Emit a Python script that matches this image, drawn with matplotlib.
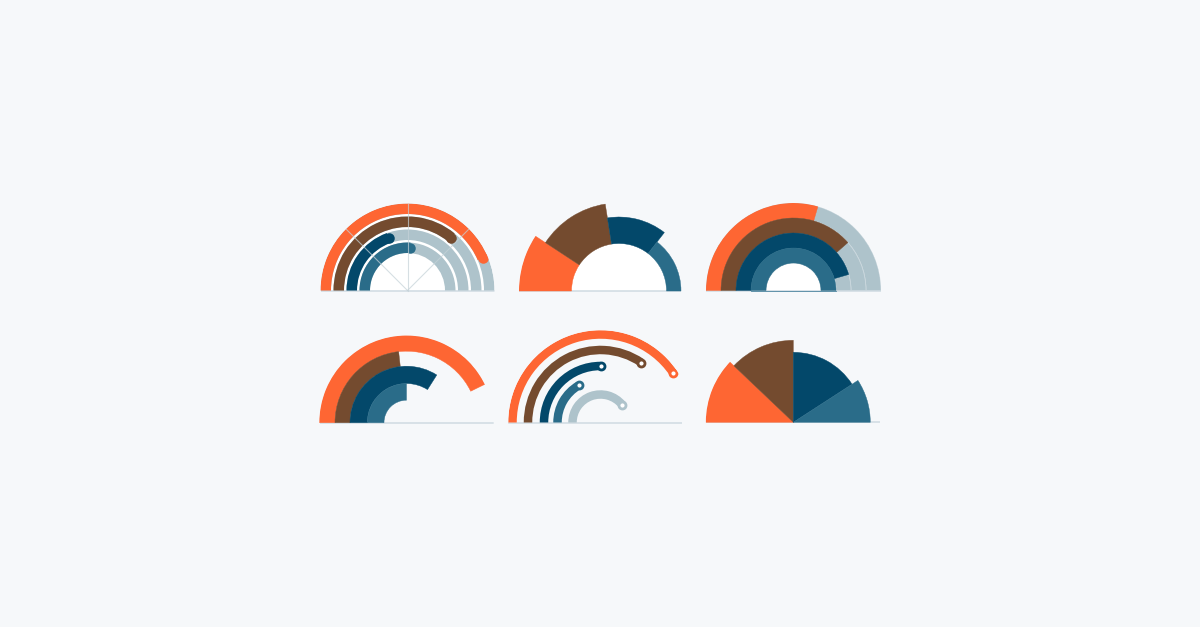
import numpy as np
import matplotlib.pyplot as plt

# Colores
naranja = '#fe6633'
marron = '#744b2f'
azul = '#03486a'
turquesa = '#2a6c89'
gris = '#aec3cb'
fondo = '#f6f8fa'
linea = '#cfdbe2'
colores = [naranja, marron, azul, turquesa]

# Datos (porcentaje de media vuelta, empezando por la izquierda)
p1_valores = [87, 72, 39, 52]            # anillos de progreso con pista gris
p2_valores = [18.5, 26.5, 26, 29]        # dona con radios variables
p2_radios = [100, 88, 74, 62]
p3_valores = [59, 77, 91, 100]           # anillos anchos con pista gris
p4_valores = [85.5, 46.5, 68, 50]        # anillos sin pista
p5_valores = [81, 69, 50, 33, 78]        # arcos finos con marcador final
p6_valores = [24.2, 25.8, 31.7, 18.3]    # pastel con radios variables
p6_radios = [87.5, 82, 70, 77]

W, H = 1200, 627
PT = 0.72  # puntos por pixel a 100 dpi

fig = plt.figure(figsize=(12, 6.27), dpi=100, facecolor=fondo)


def panel(cx, cy, R):
    ax = fig.add_axes([(cx - R) / W, (H - cy - R) / H, 2 * R / W, 2 * R / H],
                      projection='polar')
    ax.set_theta_offset(np.pi)
    ax.set_theta_direction(-1)
    ax.set_ylim(0, R)
    ax.axis('off')
    return ax


def ang(pct):
    return np.pi * np.asarray(pct, dtype=float) / 100.0


def base(ax, izq, der):
    ax.plot([0, 0, np.pi, np.pi], [izq, 0, 0, der], color=linea, lw=1.1,
            zorder=0.5, solid_capstyle='butt')


# Panel 1
ax1 = panel(407.5, 290.5, 87)
ext1 = [87, 74, 61, 48]
g1 = 10.5
ax1.bar(0, 87, width=np.pi, bottom=0, align='edge', color='white', zorder=0.2)
for v, c, r in zip(p1_valores, colores, ext1):
    ax1.bar(0, g1, width=np.pi, bottom=r - g1, align='edge', color=gris, zorder=1)
    ax1.bar(0, g1, width=ang(v), bottom=r - g1, align='edge', color=c, zorder=2)
    ax1.plot(ang(v), r - g1 / 2, 'o', ms=g1 * PT, color=c, mec='none', zorder=2)
for t in [45, 90, 135]:
    ax1.plot([np.radians(t)] * 2, [0, 87], color='#c5d2d8', lw=0.8, alpha=0.7, zorder=3)
base(ax1, 87, 87)

# Panel 2
ax2 = panel(619, 291, 100)
hueco2 = 47.5
inicio2 = np.concatenate([[0], np.cumsum(p2_valores)[:-1]])
ax2.bar(0, hueco2, width=np.pi, bottom=0, align='edge', color='white', zorder=0.2)
ax2.bar(ang(inicio2), np.array(p2_radios) - hueco2, width=ang(p2_valores),
        bottom=hueco2, align='edge', color=colores, edgecolor=colores, lw=0.3, zorder=2)
base(ax2, 100, 62)

# Panel 3
ax3 = panel(793.5, 290.5, 87.5)
ext3 = [87.5, 72.5, 57.5, 42.5]
g3 = 15
ax3.bar(0, 27.5, width=np.pi, bottom=0, align='edge', color='white', zorder=0.2)
for v, c, r in zip(p3_valores, colores, ext3):
    ax3.bar(0, g3, width=np.pi, bottom=r - g3, align='edge', color=gris,
            edgecolor='#cbd8de', lw=0.6, zorder=1)
    ax3.bar(0, g3, width=ang(v), bottom=r - g3, align='edge', color=c,
            edgecolor=c, lw=0.3, zorder=2)
ax3.plot(ang([0, 100]), [42.5, 42.5], color='#4d86a0', lw=0.6, zorder=2.5)
base(ax3, 87.5, 87.5)

# Panel 4
ax4 = panel(406.5, 422.7, 87.2)
int4 = [71.5, 56.5, 39.2, 22.5]
ext4 = [87.2, 71.5, 56.5, 39.2]
for v, c, a, b in zip(p4_valores, colores, int4, ext4):
    ax4.bar(0, b - a, width=ang(v), bottom=a, align='edge', color=c,
            edgecolor=c, lw=0.3, zorder=2)
base(ax4, 87, 87)

# Panel 5
ax5 = panel(600.5, 422.5, 92.3)
medio5 = [88, 72.5, 56.5, 43, 28]
g5 = 8.5
for v, c, r in zip(p5_valores, colores + [gris], medio5):
    ax5.bar(0, g5, width=ang(v), bottom=r - g5 / 2, align='edge', color=c, zorder=2)
    ax5.plot(ang(v), r, 'o', ms=7 * PT, mfc='white', mec=c, mew=2.8 * PT, zorder=3)
base(ax5, 92.3, 81.5)

# Panel 6
ax6 = panel(793.3, 422.3, 87.5)
inicio6 = np.concatenate([[0], np.cumsum(p6_valores)[:-1]])
ax6.bar(ang(inicio6), p6_radios, width=ang(p6_valores), bottom=0, align='edge',
        color=colores, edgecolor=colores, lw=0.3, zorder=2)
base(ax6, 87.5, 87)

fig.savefig('out.png', dpi=100, facecolor=fondo)
